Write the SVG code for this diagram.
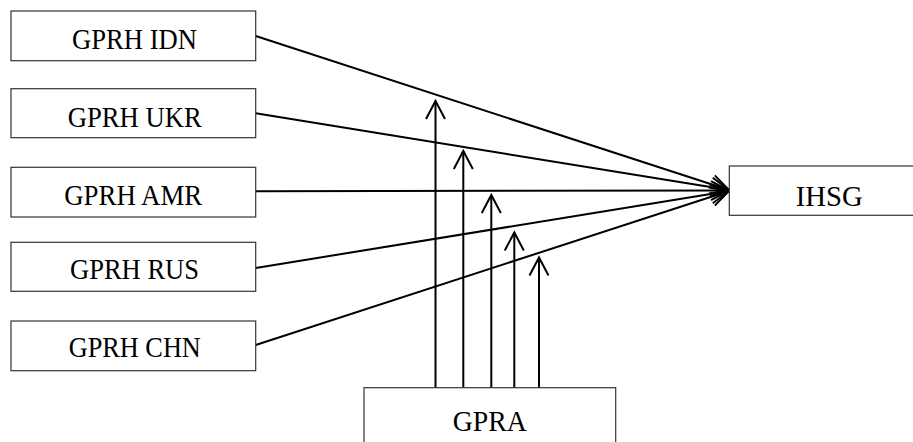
<svg xmlns="http://www.w3.org/2000/svg" width="913" height="442" viewBox="0 0 913 442">
<style>
.box{fill:#fff;stroke:#333;stroke-width:1.2}
.lbl{font-family:"Liberation Serif",serif;font-size:29px;fill:#000;text-anchor:middle}
.c{stroke:#000;stroke-width:2;fill:none;marker-end:url(#ah)}
</style>
<defs>
<marker id="ah" markerUnits="userSpaceOnUse" viewBox="-20 -12 22 24" refX="0" refY="0" markerWidth="22" markerHeight="24" orient="auto" overflow="visible">
<path d="M-18,-9.5 L0,0 L-18,9.5" fill="none" stroke="#000" stroke-width="2"/>
</marker>
</defs>
<rect width="913" height="442" fill="#fff"/>
<g id="connectors">
<line class="c" x1="255.7" y1="36" x2="729" y2="190"/>
<line class="c" x1="255.7" y1="113.3" x2="729" y2="190"/>
<line class="c" x1="255.7" y1="191.3" x2="729" y2="190.5"/>
<line class="c" x1="255.7" y1="268" x2="729" y2="191"/>
<line class="c" x1="255.7" y1="345" x2="729" y2="191"/>
<line class="c" x1="435.5" y1="387.7" x2="435.5" y2="101"/>
<line class="c" x1="463.3" y1="387.7" x2="463.3" y2="151"/>
<line class="c" x1="491.3" y1="387.7" x2="491.3" y2="195"/>
<line class="c" x1="514.3" y1="387.7" x2="514.3" y2="232.5"/>
<line class="c" x1="539" y1="387.7" x2="539" y2="257.5"/>
</g>
<g id="gprh-idn"><rect class="box" x="11" y="11" width="244.7" height="49.7"/><text class="lbl" x="134.5" y="49.3" textLength="125" lengthAdjust="spacingAndGlyphs">GPRH IDN</text></g>
<g id="gprh-ukr"><rect class="box" x="11" y="88.7" width="244.7" height="49"/><text class="lbl" x="134.7" y="126.7" textLength="134" lengthAdjust="spacingAndGlyphs">GPRH UKR</text></g>
<g id="gprh-amr"><rect class="box" x="11" y="167.3" width="244.7" height="49.7"/><text class="lbl" x="133.2" y="205" textLength="138" lengthAdjust="spacingAndGlyphs">GPRH AMR</text></g>
<g id="gprh-rus"><rect class="box" x="11" y="242.3" width="244.7" height="49"/><text class="lbl" x="134.5" y="279.3" textLength="129" lengthAdjust="spacingAndGlyphs">GPRH RUS</text></g>
<g id="gprh-chn"><rect class="box" x="11" y="321" width="244.7" height="49.7"/><text class="lbl" x="134.8" y="356.7" textLength="132" lengthAdjust="spacingAndGlyphs">GPRH CHN</text></g>
<g id="ihsg"><rect class="box" x="729.3" y="166" width="200" height="49.3"/><text class="lbl" x="829.2" y="205.7" textLength="67" lengthAdjust="spacingAndGlyphs">IHSG</text></g>
<g id="gpra"><rect class="box" x="364" y="387.7" width="251.7" height="70"/><text class="lbl" x="489.7" y="430.7" textLength="74" lengthAdjust="spacingAndGlyphs">GPRA</text></g>
</svg>
